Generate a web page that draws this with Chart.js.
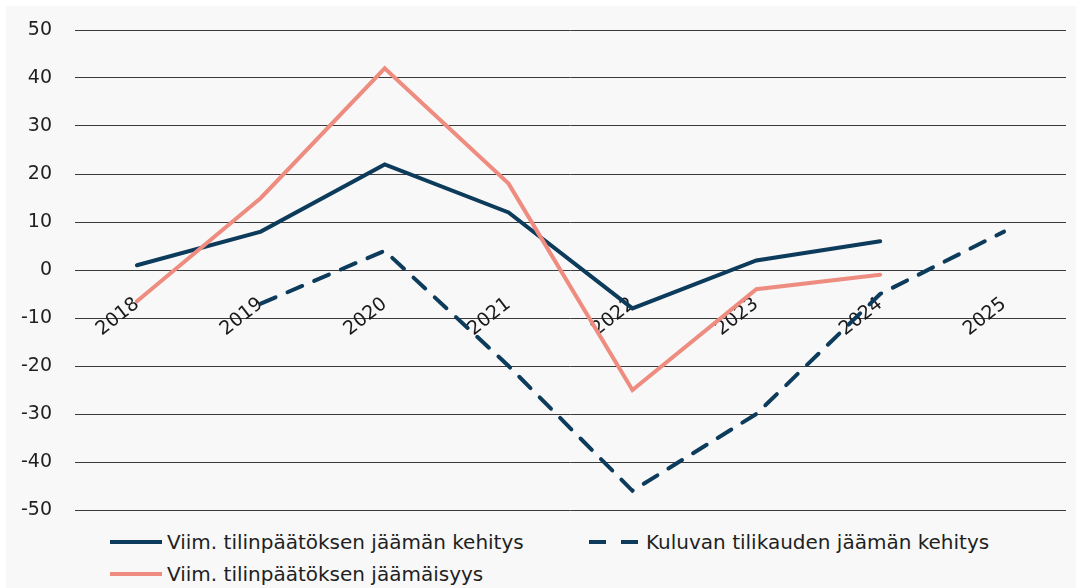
<!DOCTYPE html>
<html lang="fi">
<head>
<meta charset="utf-8">
<script src="https://cdn.jsdelivr.net/npm/chart.js@4.4.1/dist/chart.umd.min.js"></script>
<style>
    html, body { margin: 0; padding: 0; background: #ffffff; }
    #wrap { position: absolute; left: 6px; top: 6px; width: 1070px; height: 582px; background: #f8f8f8; }
    #chartBox { position: absolute; left: 0; top: 0; width: 1070px; height: 520px; }
    #legend {
        position: absolute; left: 104px; top: 521px;
        display: grid; grid-template-columns: 479px auto; row-gap: 2px;
        font-family: "DejaVu Sans", sans-serif; font-size: 20px; color: #1f1f1f;
    }
    .item { display: flex; align-items: center; height: 30px; white-space: nowrap; }
    .item svg { margin-right: 5px; }
</style>
</head>
<body>
<div id="wrap">
    <div id="chartBox"><canvas id="chart"></canvas></div>
    <div id="legend"></div>
</div>
<script>
// Vuodet ja sarjat (luettu kuvasta)
const years = ['2018', '2019', '2020', '2021', '2022', '2023', '2024', '2025'];
const kehitys = [1, 8, 22, 12, -8, 2, 6, null];
const kuluva = [null, -7, 4, -20, -46, -30, -5, 8];
const jaamaisyys = [-6.5, 15, 42, 18, -25, -4, -1, null];

// Y-akseli
const yMin = -50;
const yMax = 50;
const yStep = 10;

const NAVY = '#0d3b5b';
const SALMON = '#ee8c80';
const FONT = '"DejaVu Sans", sans-serif';

const ctx = document.getElementById('chart').getContext('2d');
const chart = new Chart(ctx, {
    type: 'line',
    data: {
        labels: years,
        datasets: [{
            label: 'Viim. tilinpäätöksen jäämän kehitys',
            data: kehitys,
            borderColor: NAVY,
            borderWidth: 4,
            order: 1
        }, {
            label: 'Kuluvan tilikauden jäämän kehitys',
            data: kuluva,
            borderColor: NAVY,
            borderWidth: 4,
            borderDash: [16, 13],
            order: 2
        }, {
            label: 'Viim. tilinpäätöksen jäämäisyys',
            data: jaamaisyys,
            borderColor: SALMON,
            borderWidth: 4,
            order: 0
        }]
    },
    options: {
        responsive: true,
        maintainAspectRatio: false,
        animation: false,
        layout: { padding: { top: 24, right: 10, bottom: 16, left: 14 } },
        elements: {
            point: { radius: 0, hoverRadius: 0 },
            line: { tension: 0, borderCapStyle: 'round', borderJoinStyle: 'miter' }
        },
        scales: {
            x: {
                position: { y: 0 },
                offset: true,
                // akseli nollaviivalla, ei vie tilaa asettelusta
                afterFit: (scale) => {
                    scale.height = 0;
                    scale.paddingLeft = 0;
                    scale.paddingRight = 0;
                    scale.paddingTop = 0;
                    scale.paddingBottom = 0;
                },
                grid: { display: false, drawTicks: false },
                border: { display: false },
                ticks: {
                    minRotation: 38,
                    maxRotation: 38,
                    padding: 23,
                    color: '#1a1a1a',
                    font: { family: FONT, size: 19 }
                }
            },
            y: {
                min: yMin,
                max: yMax,
                afterFit: (scale) => {
                    scale.width = 55;
                    scale.paddingTop = 0;
                    scale.paddingBottom = 0;
                },
                grid: { color: '#3a3a3a', lineWidth: 1, drawTicks: false },
                border: { display: false },
                ticks: {
                    stepSize: yStep,
                    padding: 23,
                    color: '#1f1f1f',
                    font: { family: FONT, size: 19 }
                }
            }
        },
        plugins: {
            legend: { display: false },
            tooltip: { enabled: false }
        }
    }
});

// Selite HTML:nä, rakennetaan datasarjoista
const legend = document.getElementById('legend');
chart.data.datasets.forEach(ds => {
    const item = document.createElement('div');
    item.className = 'item';
    const dash = ds.borderDash ? `stroke-dasharray="17 15"` : '';
    item.innerHTML = `
        <svg width="52" height="8"><line x1="0" y1="4" x2="52" y2="4" stroke="${ds.borderColor}" stroke-width="4" ${dash}/></svg>
        <span>${ds.label}</span>`;
    legend.appendChild(item);
});
</script>
</body>
</html>
